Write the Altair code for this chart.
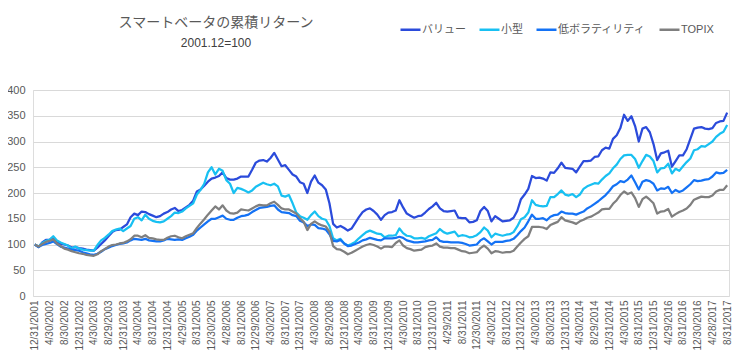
import altair as alt
import pandas as pd

TITLE = "スマートベータの累積リターン"
SUBTITLE = "2001.12=100"
SERIES = ["バリュー", "小型", "低ボラティリティ", "TOPIX"]
COLORS = ["#2B4BDB", "#18C0F2", "#1472F5", "#7F7F7F"]

TICK_LABELS = [
    "12/31/2001", "4/30/2002", "8/30/2002", "12/31/2002", "4/30/2003", "8/29/2003",
    "12/31/2003", "4/30/2004", "8/31/2004", "12/31/2004", "4/29/2005", "8/31/2005",
    "12/30/2005", "4/28/2006", "8/31/2006", "12/29/2006", "4/30/2007", "8/31/2007",
    "12/31/2007", "4/30/2008", "8/29/2008", "12/31/2008", "4/30/2009", "8/31/2009",
    "12/31/2009", "4/30/2010", "8/31/2010", "12/31/2010", "4/29/2011", "8/31/2011",
    "12/30/2011", "4/30/2012", "8/31/2012", "12/31/2012", "4/30/2013", "8/30/2013",
    "12/31/2013", "4/30/2014", "8/29/2014", "12/31/2014", "4/30/2015", "8/31/2015",
    "12/31/2015", "4/29/2016", "8/31/2016", "12/30/2016", "4/28/2017", "8/31/2017",
]

VALUE = [
    100, 95, 104, 109, 109, 114, 104, 101, 100, 98, 94, 95,
    93, 92, 90, 89, 88, 94, 101, 108, 116, 124, 128, 129,
    134, 139, 153, 160, 157, 164, 163, 159, 156, 153, 155, 160,
    163, 168, 171, 165, 167, 172, 177, 185, 203, 207, 214, 222,
    228, 230, 233, 240, 229, 226, 226, 228, 232, 232, 232, 245,
    259, 263, 264, 261, 268, 278, 265, 252, 254, 245, 236, 232,
    221, 218, 200, 222, 234, 220, 215, 207, 180, 140, 133, 136,
    132, 127, 131, 142, 153, 163, 168, 170, 165, 158, 148, 157,
    162, 163, 166, 186, 172, 160, 156, 152, 155, 156, 162, 169,
    174, 181, 170, 165, 164, 165, 166, 152, 151, 151, 143, 144,
    147, 165, 173, 165, 145, 155, 150, 145, 146, 147, 152, 165,
    188, 197, 208, 233, 229, 230, 228, 224, 240, 239, 248, 259,
    249, 248, 247, 240, 251, 262, 262, 263, 270, 271, 283, 288,
    286, 305, 312, 326, 352, 340, 349, 330, 300, 325, 328, 318,
    295, 264, 277, 279, 282, 251, 262, 273, 273, 285, 305, 325,
    327, 328, 325, 324, 326, 336, 339, 340, 356,
]

SMALL = [
    100, 96, 103, 107, 109, 116, 108, 104, 101, 98, 92, 96,
    92, 90, 89, 88, 88, 99, 108, 113, 119, 126, 129, 131,
    126, 131, 136, 150, 153, 147, 158, 150, 146, 144, 143, 145,
    150, 155, 162, 161, 164, 170, 175, 180, 197, 206, 218, 240,
    250, 236, 247, 243, 225, 218, 200, 210, 208, 205, 201, 205,
    212, 216, 220, 217, 215, 218, 213, 195, 193, 196, 180, 162,
    155, 152, 148, 157, 164, 155, 150, 148, 136, 112, 108, 111,
    102, 98, 101, 105, 112, 118, 124, 127, 124, 121, 120, 114,
    117, 117, 118, 131, 122, 117, 116, 112, 112, 113, 111, 116,
    119, 122, 130, 124, 121, 123, 125, 116, 118, 117, 114, 115,
    118, 124, 133, 127, 114, 121, 119, 117, 119, 120, 124, 135,
    149, 153, 162, 186, 177, 175, 174, 175, 192, 192, 198, 205,
    197, 195, 198, 192, 197, 208, 213, 216, 219, 218, 226, 233,
    238, 248, 255, 266, 273, 274, 274, 266, 249, 262, 274, 271,
    262, 240, 248, 249, 257, 238, 247, 243, 252, 260, 267, 283,
    285, 291, 290, 295, 300, 309, 315, 319, 332,
]

LOWVOL = [
    100, 95, 99, 101, 103, 106, 101, 96, 94, 92, 90, 89,
    88, 85, 83, 81, 80, 82, 86, 91, 94, 97, 99, 101,
    102, 104, 108, 111, 110, 109, 111, 108, 107, 106, 106, 108,
    111, 110, 109, 110, 109, 112, 115, 119, 127, 133, 139, 145,
    150, 150, 153, 156, 150, 148, 148, 152, 155, 156, 158, 163,
    167, 171, 172, 173, 175, 176, 168, 163, 162, 161, 157, 155,
    146, 143, 136, 139, 138, 132, 131, 129, 120, 107, 106, 109,
    102, 97, 98, 101, 104, 108, 110, 113, 111, 109, 108, 112,
    112, 112, 113, 115, 113, 108, 106, 104, 104, 105, 106, 108,
    109, 114, 107, 105, 105, 104, 104, 104, 103, 101, 98, 99,
    100, 108, 112, 106, 100, 105, 105, 105, 107, 108, 111, 118,
    126, 133, 145, 158, 150, 150, 151, 147, 154, 157, 158, 164,
    161, 160, 160, 158, 161, 164, 170, 174, 179, 184, 190, 196,
    204, 213, 217, 223, 221, 226, 234, 221, 207, 222, 225, 223,
    218, 205, 209, 208, 212, 200, 206, 202, 205, 211, 217, 225,
    223, 224, 226, 227, 232, 240, 238, 239, 245,
]

TOPIX = [
    100, 96, 101, 105, 107, 110, 102, 97, 92, 90, 87, 85,
    83, 82, 80, 79, 78, 81, 87, 91, 96, 99, 100, 102,
    103, 106, 110, 117, 117, 114, 118, 113, 112, 110, 109, 109,
    113, 116, 117, 114, 112, 116, 119, 122, 132, 141, 149, 158,
    166, 174, 168, 176, 166, 161, 160, 162, 168, 167, 166, 170,
    174, 177, 176, 176, 180, 183, 177, 170, 168, 168, 164, 160,
    151, 144, 128, 140, 145, 140, 137, 135, 125, 97, 91, 90,
    86, 81, 84, 88, 92, 96, 99, 101, 99, 96, 92, 96,
    96, 95, 103, 108, 98, 93, 91, 88, 89, 90, 95, 97,
    98, 102, 96, 94, 94, 93, 93, 90, 87, 86, 83, 84,
    85, 93, 98, 92, 83, 87, 86, 84, 85, 85, 88, 96,
    104, 111, 116, 134, 134, 134, 133, 130, 138, 141, 144, 153,
    147, 145, 143, 140, 145, 148, 152, 154, 158, 162, 168, 169,
    169, 179, 186, 196, 203, 198, 201, 190, 173, 188, 193, 187,
    180, 160, 164, 165, 169, 154, 159, 163, 166, 170, 177, 187,
    190, 193, 192, 192, 195, 203, 206, 206, 215,
]

try:
    dates = pd.date_range("2001-12-31", periods=len(VALUE), freq="BME")
except ValueError:
    dates = pd.date_range("2001-12-31", periods=len(VALUE), freq="BM")
MONTHS = [f"{d.month}/{d.day}/{d.year}" for d in dates]

rows = []
for name, vals in zip(SERIES, [VALUE, SMALL, LOWVOL, TOPIX]):
    for k, (m, v) in enumerate(zip(MONTHS, vals)):
        rows.append({"date": m, "series": name, "value": v, "k": k})
df = pd.DataFrame(rows)

FONT = "Liberation Sans, Noto Sans CJK JP, sans-serif"
GREY = "#595959"

lines = alt.Chart(df).mark_line(strokeWidth=2.25, strokeJoin="round").encode(
    x=alt.X(
        "date:O",
        sort=MONTHS,
        scale=alt.Scale(padding=0.5),
        axis=alt.Axis(
            values=TICK_LABELS, title=None, labelAngle=-90, domain=False,
            ticks=False, grid=False, labelFontSize=10, labelColor=GREY,
            labelPadding=4, labelFont=FONT,
        ),
    ),
    y=alt.Y(
        "value:Q",
        scale=alt.Scale(domain=[0, 400], nice=False),
        axis=alt.Axis(
            values=list(range(0, 401, 50)), title=None, domain=False, ticks=False,
            gridColor="#D9D9D9", gridWidth=1, labelFontSize=11, labelColor=GREY,
            labelPadding=8, labelFont=FONT,
        ),
    ),
    color=alt.Color(
        "series:N",
        scale=alt.Scale(domain=SERIES, range=COLORS),
        legend=alt.Legend(
            title=None, orient="none", legendX=366, legendY=-72,
            direction="horizontal", symbolType="stroke", symbolSize=400,
            symbolStrokeWidth=2.5, labelFontSize=11, labelColor=GREY,
            labelFont=FONT, columnPadding=8, labelOffset=0,
        ),
    ),
    order=alt.Order("k:Q"),
)

title_df = pd.DataFrame({"t": [TITLE]})
sub_df = pd.DataFrame({"t": [SUBTITLE]})

title_text = alt.Chart(title_df).mark_text(
    fontSize=14, color=GREY, font=FONT, align="center", baseline="middle"
).encode(x=alt.value(183), y=alt.value(-67), text="t:N")

sub_text = alt.Chart(sub_df).mark_text(
    fontSize=12, color="#404040", font=FONT, align="center", baseline="middle"
).encode(x=alt.value(183), y=alt.value(-47), text="t:N")

chart = alt.layer(lines, title_text, sub_text).properties(
    width=696,
    height=206,
    autosize=alt.AutoSizeParams(type="none"),
    padding={"left": 25, "top": 82, "right": 5, "bottom": 56},
).configure_view(stroke=None).configure(background="white")

chart.save("out.html", embed_options={"renderer": "svg", "actions": False})
